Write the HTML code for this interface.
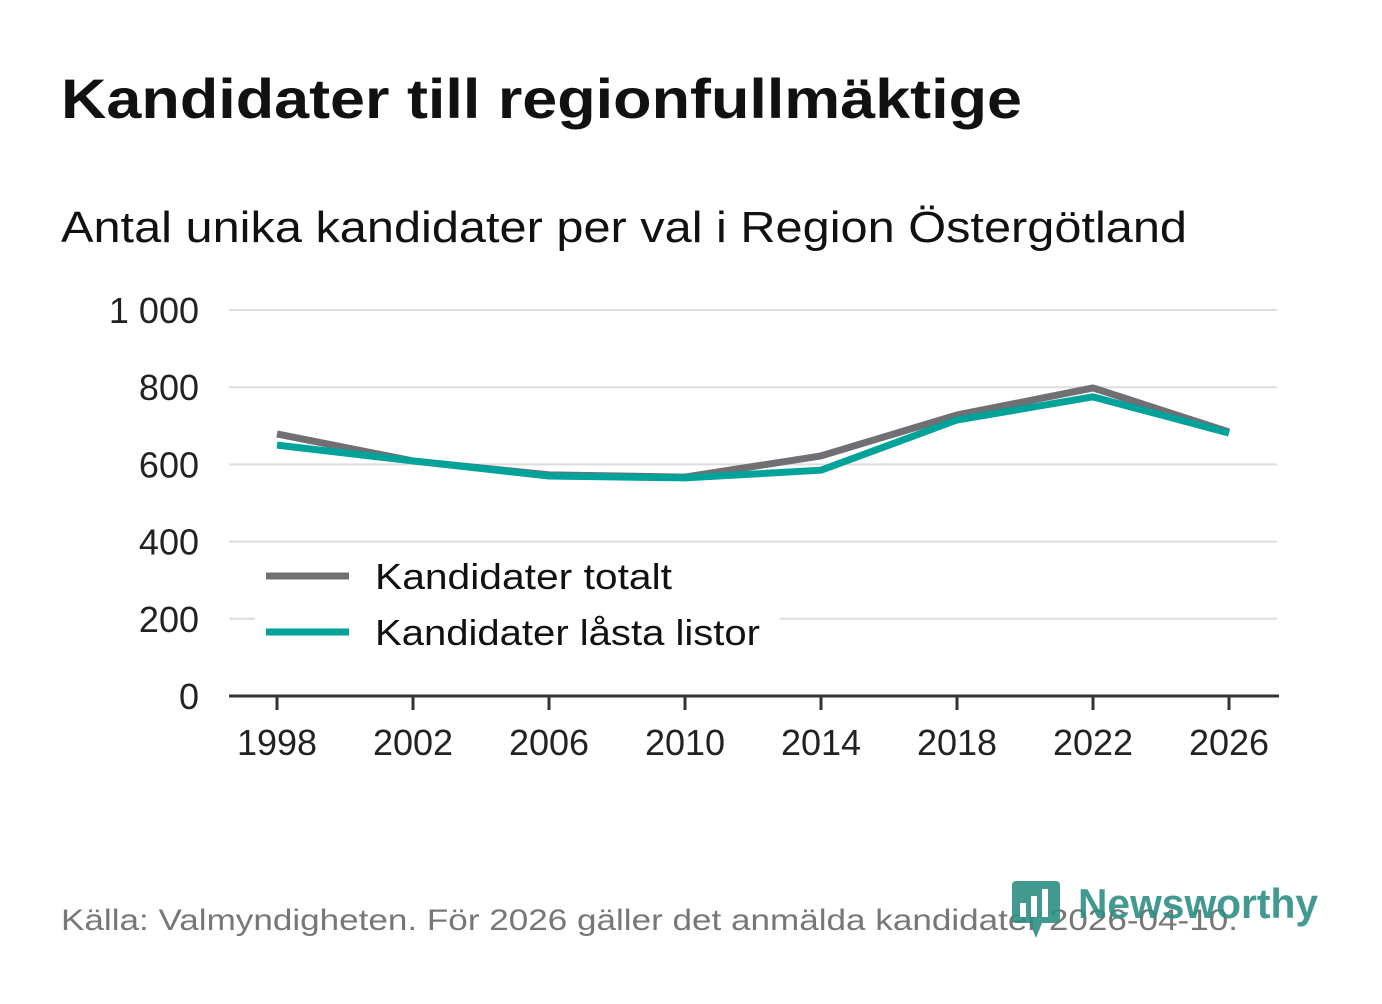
<!DOCTYPE html>
<html><head><meta charset="utf-8"><style>
body{margin:0;background:#fff;width:1382px;height:999px;overflow:hidden;font-family:"Liberation Sans","DejaVu Sans",sans-serif}
</style></head><body>
<svg width="1382" height="999">
<text x="61" y="118" font-size="56" font-weight="bold" fill="#111" textLength="961" lengthAdjust="spacingAndGlyphs">Kandidater till regionfullmäktige</text>
<text x="61" y="242" font-size="44" fill="#111" textLength="1126" lengthAdjust="spacingAndGlyphs">Antal unika kandidater per val i Region Östergötland</text>
<g id="grid"></g><g id="lines"></g>
<g>
<rect x="255" y="545" width="525" height="120" fill="#fff"/>
<line x1="266" y1="576" x2="349" y2="576" stroke="#707074" stroke-width="7"/>
<text x="375" y="589" font-size="36" fill="#111" textLength="297" lengthAdjust="spacingAndGlyphs">Kandidater totalt</text>
<line x1="266" y1="632" x2="349" y2="632" stroke="#00a39a" stroke-width="7"/>
<text x="375" y="645" font-size="36" fill="#111" textLength="385" lengthAdjust="spacingAndGlyphs">Kandidater låsta listor</text>
</g>
<text x="61" y="930" font-size="30" fill="#777" textLength="1177" lengthAdjust="spacingAndGlyphs">Källa: Valmyndigheten. För 2026 gäller det anmälda kandidater 2026-04-10.</text>
<g opacity="0.9">
<rect x="1012" y="881" width="48" height="42" rx="4" fill="#2e8f84"/>
<polygon points="1030,923 1042,923 1036,938" fill="#2e8f84"/>
<rect x="1020" y="903" width="6" height="14" fill="#fff"/><rect x="1031" y="896" width="6" height="21" fill="#fff"/><rect x="1042" y="889" width="6" height="28" fill="#fff"/>
<text x="1078" y="918" font-size="42" font-weight="bold" fill="#2e8f84" textLength="240" lengthAdjust="spacingAndGlyphs">Newsworthy</text>
</g>
</svg>
<script>
const years=[1998,2002,2006,2010,2014,2018,2022,2026];
const totalt=[679,609,573,567,622,728,798,684];
const lasta=[650,609,570,565,585,715,775,681];
const yTicks=[0,200,400,600,800,1000];
const yLabels=["0","200","400","600","800","1 000"];
const ns="http://www.w3.org/2000/svg";
const X=y=>277+(y-1998)*(952/28);
const Y=v=>696-v*0.386;
const grid=document.getElementById('grid'),lines=document.getElementById('lines');
function mk(t,a,p){const e=document.createElementNS(ns,t);for(const k in a)e.setAttribute(k,a[k]);p.appendChild(e);return e;}
yTicks.forEach((v,i)=>{
 if(v>0){const g=mk('line',{x1:229,x2:1277,y1:Y(v),y2:Y(v),stroke:'#ddd','stroke-width':2},grid);
 
 }
 const t=mk('text',{x:199,y:Y(v)+13,'text-anchor':'end','font-size':36,fill:'#222'},grid);t.textContent=yLabels[i];
 
 
});
const ax=mk('line',{x1:229,x2:1279,y1:696,y2:696,stroke:'#333','stroke-width':3},grid);


years.forEach(y=>{
 const tk=mk('line',{x1:X(y),x2:X(y),y1:696,y2:710,stroke:'#333','stroke-width':3},grid);
 
 
 const t=mk('text',{x:X(y),y:755,'text-anchor':'middle','font-size':36,fill:'#222'},grid);t.textContent=y;
 
 
});
function series(vals,col,name){
 const p=mk('polyline',{points:vals.map((v,i)=>X(years[i])+','+Y(v)).join(' '),fill:'none',stroke:col,'stroke-width':7,'stroke-linejoin':'round'},lines);
 
 
}
series(totalt,'#707074','line-kandidater-totalt');
series(lasta,'#00a39a','line-kandidater-lasta-listor');
</script>
</body></html>
